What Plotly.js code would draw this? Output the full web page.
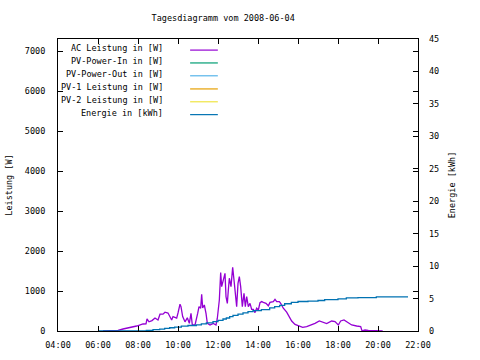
<!DOCTYPE html>
<html>
<head>
<meta charset="utf-8">
<script src="https://cdn.plot.ly/plotly-3.0.1.min.js"></script>
<style>html,body{margin:0;padding:0;background:#fff}#chart{width:480px;height:360px}</style>
</head>
<body>
<div id="chart"></div>
<script>
var day = '2008-06-04 ';
var seriesNames = ['AC Leistung in [W]', 'PV-Power-In in [W]', 'PV-Power-Out in [W]', 'PV-1 Leistung in [W]', 'PV-2 Leistung in [W]', 'Energie in [kWh]'];
var seriesColors = ['#9400d3', '#009e73', '#56b4e9', '#e69f00', '#f0e442', '#0072b2'];

var acTimes = ['06:15','06:36','07:00','07:15','07:36','07:56','08:15','08:24','08:27','08:33','08:42','08:51','09:00','09:06','09:15','09:21','09:30','09:36','09:41','09:45','09:56','10:00','10:06','10:09','10:14','10:21','10:28','10:34','10:39','10:43','10:51','10:59','11:03','11:08','11:11','11:14','11:19','11:24','11:28','11:36','11:46','11:54','11:58','12:04','12:08','12:11','12:16','12:21','12:24','12:28','12:31','12:34','12:39','12:44','12:48','12:52','12:56','13:00','13:04','13:08','13:13','13:18','13:22','13:26','13:31','13:36','13:41','13:46','13:51','13:56','14:01','14:06','14:11','14:16','14:24','14:31','14:36','14:46','14:51','14:56','15:04','15:08','15:16','15:26','15:34','15:41','15:51','16:01','16:14','16:26','16:41','16:51','17:04','17:16','17:26','17:41','17:51','18:01','18:08','18:18','18:28','18:41','18:56','19:08','19:12','19:21','19:31','19:44','20:01','20:14'];
var acPower = [0,5,15,50,80,125,175,180,300,230,260,325,275,420,420,470,450,360,275,360,320,450,670,610,360,230,330,190,440,150,150,440,610,570,920,575,650,440,190,150,190,150,320,775,1460,1110,1275,1440,860,690,1025,1320,1110,1590,1275,860,610,1190,1360,1110,610,940,610,860,610,690,540,540,460,570,525,710,735,715,690,630,715,735,790,735,735,690,570,470,360,250,165,130,90,110,150,190,250,220,185,250,235,150,250,275,215,150,125,110,5,25,15,10,5,0];

var enTimes = ['06:00','08:25','08:45','09:05','09:20','09:35','09:50','10:10','10:30','10:55','11:10','11:25','11:45','12:00','12:15','12:25','12:35','12:45','13:00','13:15','13:30','13:45','14:10','14:35','14:50','15:05','15:20','15:40','16:00','16:30','17:00','17:20','18:00','18:25','19:00','19:55','21:30'];
var enKWh = [0,0.1,0.2,0.3,0.4,0.5,0.6,0.75,0.85,0.95,1.1,1.25,1.45,1.65,1.85,2.0,2.2,2.4,2.6,2.8,3.0,3.15,3.3,3.55,3.75,3.95,4.2,4.4,4.55,4.6,4.7,4.85,4.95,5.1,5.15,5.25,5.25];

var F = 'DejaVu Sans Mono, monospace';
function withDay(arr){ return arr.map(function(t){ return day + t; }); }

var traces = [
  {x: withDay(acTimes), y: acPower, name: seriesNames[0], type: 'scatter', mode: 'lines', line: {color: seriesColors[0], width: 1.3}, yaxis: 'y'},
  {x: [], y: [], name: seriesNames[1], type: 'scatter', mode: 'lines', line: {color: seriesColors[1], width: 1.2}, yaxis: 'y'},
  {x: [], y: [], name: seriesNames[2], type: 'scatter', mode: 'lines', line: {color: seriesColors[2], width: 1.2}, yaxis: 'y'},
  {x: [], y: [], name: seriesNames[3], type: 'scatter', mode: 'lines', line: {color: seriesColors[3], width: 1.2}, yaxis: 'y'},
  {x: [], y: [], name: seriesNames[4], type: 'scatter', mode: 'lines', line: {color: seriesColors[4], width: 1.2}, yaxis: 'y'},
  {x: withDay(enTimes), y: enKWh, name: seriesNames[5], type: 'scatter', mode: 'lines', line: {color: seriesColors[5], width: 1.3, shape: 'hv'}, yaxis: 'y2'}
];

// manual gnuplot-style legend (text left, sample right)
var annotations = [];
var shapes = [];
var rowY = [0.962, 0.918, 0.874, 0.829, 0.785, 0.741];
for (var i = 0; i < seriesNames.length; i++) {
  annotations.push({xref: 'paper', yref: 'paper', x: 0.297, y: rowY[i] + 0.006, xanchor: 'right', yanchor: 'middle', text: seriesNames[i], showarrow: false, font: {family: F, size: 8.5, color: '#000'}});
  shapes.push({type: 'line', xref: 'paper', yref: 'paper', x0: 0.367, x1: 0.444, y0: rowY[i], y1: rowY[i], line: {color: seriesColors[i], width: 1.2}});
}

var layout = {
  width: 480, height: 360,
  margin: {l: 58, r: 62, t: 39, b: 29},
  paper_bgcolor: '#fff', plot_bgcolor: '#fff',
  font: {family: F, size: 8.5, color: '#000'},
  showlegend: false,
  title: {text: 'Tagesdiagramm vom 2008-06-04', font: {family: F, size: 8.5, color: '#000'}, x: 0.465, xref: 'container', xanchor: 'center', y: 0.95, yref: 'container', yanchor: 'middle'},
  xaxis: {type: 'date', range: [day + '04:00', day + '22:00'], dtick: 7200000, tick0: day + '04:00', tickformat: '%H:%M',
          ticks: 'inside', ticklen: 5, tickcolor: '#000', showline: true, linecolor: '#000', linewidth: 1, mirror: 'ticks',
          showgrid: false, zeroline: false, fixedrange: true, automargin: false, ticklabelstandoff: 6},
  yaxis: {range: [0, 7300], dtick: 1000, tick0: 0, ticks: 'inside', ticklen: 5, tickcolor: '#000', showline: true, linecolor: '#000', linewidth: 1, mirror: 'ticks',
          showgrid: false, zeroline: false, automargin: false, ticklabelstandoff: 10,
          title: {text: 'Leistung [W]', font: {family: F, size: 8.5}, standoff: 10}},
  yaxis2: {range: [0, 45], dtick: 5, tick0: 0, overlaying: 'y', side: 'right', ticks: 'inside', ticklen: 5, tickcolor: '#000', showline: false,
          showgrid: false, zeroline: false, automargin: false, ticklabelstandoff: 10,
          title: {text: 'Energie [kWh]', font: {family: F, size: 8.5}, standoff: 10}},
  annotations: annotations,
  shapes: shapes
};

Plotly.newPlot('chart', traces, layout, {staticPlot: true, displayModeBar: false});
</script>
</body>
</html>
